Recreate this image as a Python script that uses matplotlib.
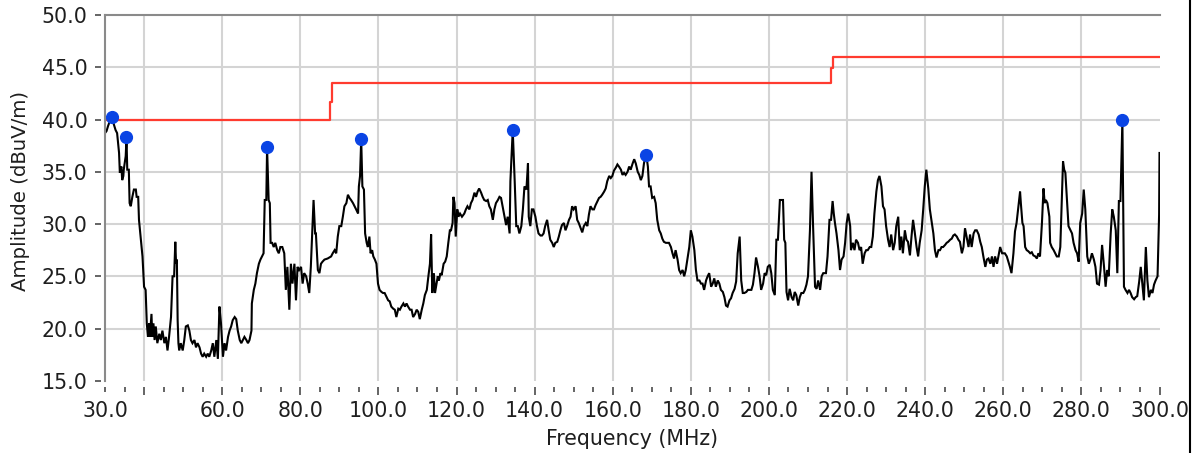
import matplotlib
matplotlib.use("Agg")
import matplotlib.pyplot as plt
from matplotlib.ticker import FixedLocator, FixedFormatter, MultipleLocator
from matplotlib.lines import Line2D

# ---------------- data ----------------
freq_a = [30.0, 30.4, 30.8, 31.4, 31.8, 32.3, 32.7, 33.1, 33.6, 33.8, 34.2, 34.4, 34.7, 34.8, 35.3, 35.5,
          35.7, 36.1, 36.3, 36.6, 37.0, 37.4, 37.9, 38.1, 38.5, 38.7, 39.1, 39.6, 40.0, 40.4, 40.7, 41.0,
          41.3, 41.5, 41.9, 42.1, 42.4, 42.7, 43.0, 43.4, 43.9, 44.3, 44.7, 45.2, 45.6, 46.0, 46.4, 46.9,
          47.3, 47.7, 48.0, 48.2, 48.4, 48.6, 48.8, 49.0, 49.4, 49.9, 50.3, 50.7, 51.2, 51.6, 52.0, 52.4,
          52.9, 53.3, 53.7, 54.2, 54.6, 55.0, 55.4, 55.9, 56.3, 56.7, 57.2, 57.6, 58.0, 58.5, 58.9, 59.3,
          59.7, 60.2, 60.6, 61.0, 61.5, 61.9, 62.3, 62.7, 63.2, 63.6, 64.0, 64.5, 64.9, 65.3, 65.7, 66.2,
          66.6, 67.0, 67.5, 67.6, 68.1, 68.5, 68.9, 69.4, 69.8, 70.2, 70.6, 70.9, 71.3, 71.5, 71.9, 72.2,
          72.4, 72.8, 73.2, 73.6, 74.1, 74.5, 74.9]
amp_a = [38.7, 38.9, 39.4, 40.0, 40.1, 39.5, 39.0, 38.7, 36.8, 34.9, 35.5, 34.2, 34.6, 35.2, 36.5, 38.2,
         35.2, 35.2, 32.0, 31.7, 32.6, 33.3, 33.3, 32.6, 32.6, 30.4, 28.8, 26.9, 24.0, 23.7, 20.5, 19.2,
         20.5, 19.2, 21.4, 19.2, 20.5, 18.9, 20.2, 18.6, 19.5, 18.9, 19.8, 18.6, 19.2, 17.9, 19.2, 21.1,
         25.0, 25.0, 28.3, 26.2, 26.6, 20.8, 18.6, 17.9, 18.6, 17.9, 18.9, 20.2, 20.3, 19.8, 18.9, 18.6,
         18.9, 18.2, 18.6, 18.2, 17.6, 17.3, 17.6, 17.3, 17.6, 17.3, 17.9, 18.6, 17.3, 18.9, 17.1, 22.1,
         20.5, 17.3, 18.6, 17.9, 19.2, 19.8, 20.2, 20.8, 21.1, 20.9, 19.8, 18.9, 18.6, 18.9, 19.2, 18.9,
         18.6, 18.9, 19.8, 22.4, 23.7, 24.3, 25.3, 26.2, 26.6, 26.9, 27.2, 32.3, 32.3, 37.3, 32.3, 32.0,
         28.2, 28.2, 27.8, 28.2, 27.5, 27.2, 27.8]

freq_b = [75.4, 75.9, 76.3, 76.7, 77.2, 77.6, 78.0, 78.5, 78.9, 79.3, 79.7, 80.2, 80.6, 81.0, 81.5, 81.9,
          82.3, 82.7, 83.2, 83.4, 83.8, 84.0, 84.5, 84.9, 85.3, 85.7, 86.2, 87.0, 87.9, 88.3, 88.8, 89.2,
          89.6, 90.0, 90.5, 90.9, 91.3, 91.8, 92.2, 92.6, 93.0, 93.5, 93.9, 94.3, 94.8, 95.0, 95.3, 95.6,
          95.9, 96.3, 96.6, 97.0, 97.3, 97.7, 98.0, 98.4, 98.7, 99.1, 99.5, 99.9, 100.3, 100.8, 101.2,
          101.6, 102.1, 102.5, 102.9, 103.3, 103.8, 104.2, 104.6, 105.1, 105.5, 105.9, 106.4, 106.8,
          107.2, 107.6, 108.1, 108.5, 108.9, 109.4, 109.8, 110.2, 110.6, 111.1, 111.5, 111.9, 112.4,
          112.8, 113.2, 113.5, 113.8, 114.2, 114.5, 114.9, 115.2, 115.5, 115.9, 116.2, 116.7, 117.1,
          117.5, 117.9, 118.3, 118.6, 119.0, 119.2, 119.5, 119.8, 120.2, 120.5, 120.9, 121.4]
amp_b = [27.8, 27.2, 23.7, 25.9, 21.8, 26.2, 24.3, 26.2, 22.7, 25.9, 25.6, 25.9, 24.3, 25.3, 25.0, 24.3,
         23.4, 25.9, 30.4, 32.3, 29.1, 29.1, 25.6, 25.3, 26.2, 26.4, 26.6, 26.7, 26.9, 27.2, 27.5, 27.2,
         28.8, 29.8, 29.8, 30.7, 31.7, 32.0, 32.8, 32.5, 32.3, 32.0, 31.7, 31.4, 31.0, 33.6, 34.6, 38.1,
         33.6, 33.3, 29.1, 28.2, 27.8, 28.8, 27.2, 27.5, 26.9, 26.6, 26.2, 24.3, 23.7, 23.5, 23.4,
         23.4, 23.0, 22.7, 22.6, 22.1, 21.9, 21.8, 21.1, 21.9, 21.8, 22.1, 22.4, 22.1,
         22.4, 22.1, 21.8, 21.8, 21.1, 21.4, 21.8, 21.6, 20.9, 21.8, 22.4, 23.2, 23.7,
         25.0, 26.2, 29.0, 23.4, 25.3, 23.4, 24.3, 25.0, 24.6, 25.3, 25.1, 26.2, 26.4,
         26.9, 28.2, 29.4, 29.4, 30.1, 32.6, 32.0, 28.8, 31.4, 30.7, 31.0, 30.7]

freq_c = [122.0, 122.4, 122.8, 123.3, 123.7, 124.1, 124.6, 125.0, 125.4, 125.8,
          126.3, 126.7, 127.1, 127.6, 128.0, 128.4, 128.8, 129.3, 129.7, 130.1,
          130.6, 131.0, 131.4, 131.8, 132.3, 132.7, 133.1, 133.6, 133.8, 134.4,
          134.9, 135.3, 135.7, 136.1, 136.6, 137.0, 137.4, 137.9, 138.3, 138.5,
          138.9, 139.3, 139.7, 140.2, 140.6, 141.0, 141.5, 141.9, 142.3, 142.7,
          143.2, 143.6, 144.0, 144.5, 144.9, 145.3, 145.8, 146.2, 146.6, 147.0,
          147.5, 147.9, 148.3, 148.8, 149.2, 149.6, 150.0, 150.5, 150.9, 151.3,
          151.8, 152.2, 152.6, 153.1, 153.5, 153.9, 154.3, 154.8, 155.2, 155.6,
          156.1, 156.5, 156.9, 157.3, 157.8, 158.2, 158.6, 159.1, 159.5, 159.9,
          160.3, 160.8, 161.2, 161.6, 162.1, 162.5, 162.9, 163.3, 163.8, 164.2,
          164.6, 165.1, 165.5, 165.9, 166.4, 166.8, 167.2]
amp_c = [31.0, 31.4, 31.7, 31.4, 32.0, 32.3, 33.0, 32.6, 33.1, 33.4,
         33.0, 32.6, 32.3, 32.2, 32.3, 31.7, 31.4, 30.4, 31.4, 32.0,
         32.3, 32.6, 32.5, 31.7, 30.7, 29.9, 30.7, 29.1, 34.1, 39.0,
         34.1, 29.8, 29.8, 29.1, 29.8, 31.4, 33.6, 33.3, 35.8, 30.7,
         29.8, 31.4, 31.4, 30.7, 29.8, 29.1, 28.9, 28.9, 29.1, 29.8,
         30.4, 29.4, 28.5, 28.2, 27.8, 28.2, 28.3, 28.8, 29.4, 29.9,
         30.1, 29.4, 29.8, 30.4, 30.7, 31.7, 31.4, 31.7, 30.4, 30.1,
         29.6, 29.2, 29.8, 30.1, 29.8, 30.9, 31.7, 31.4, 31.4, 31.8,
         32.2, 32.5, 32.6, 32.8, 33.1, 33.4, 34.1, 34.6, 34.4, 34.6,
         35.1, 35.4, 35.7, 35.5, 35.2, 34.7, 34.9, 34.7, 35.0, 35.5,
         35.2, 35.8, 36.2, 35.8, 35.0, 34.7, 34.2]

freq_d = [167.6, 168.0, 168.4, 168.6, 169.0, 169.3, 169.7, 170.1, 170.6, 171.0,
          171.4, 171.9, 172.3, 172.7, 173.1, 173.6, 174.0, 174.4, 174.9, 175.3,
          175.7, 176.1, 176.6, 177.0, 177.4, 177.9, 178.3, 178.7, 179.1, 179.6,
          180.0, 180.4, 180.9, 181.3, 181.7, 182.2, 182.6, 183.0, 183.4, 183.9,
          184.3, 184.7, 185.2, 185.6, 186.0, 186.4, 186.9, 187.3, 187.7, 188.2,
          188.6, 189.0, 189.4, 189.9, 190.3, 190.7, 191.2, 191.6, 192.0, 192.5,
          192.9, 193.3, 193.7, 194.2, 194.6, 195.0, 195.5, 195.9, 196.3, 196.7,
          197.2, 197.6, 198.0, 198.5, 198.9, 199.3, 199.7, 200.2, 200.6, 201.0,
          201.5, 201.9, 202.3, 202.8, 203.2, 203.6, 203.9, 204.2, 204.5, 204.9,
          205.3, 205.8, 206.2, 206.6, 207.0, 207.5, 207.9, 208.3, 208.8, 209.2,
          209.6, 210.0, 210.5, 210.9, 211.3, 211.8, 212.2, 212.6, 213.1, 213.5,
          213.9]
amp_d = [34.6, 35.8, 36.5, 36.6, 35.5, 33.6, 33.6, 32.5, 32.6, 32.0,
         30.4, 29.4, 29.1, 28.6, 28.3, 28.2, 28.2, 28.2, 27.8, 27.2,
         26.7, 27.5, 26.6, 25.6, 25.3, 25.6, 25.0, 25.6, 26.6, 27.8,
         29.4, 28.8, 27.5, 25.6, 24.6, 24.6, 24.3, 24.3, 23.7, 24.6,
         25.0, 25.3, 24.0, 24.3, 24.8, 24.0, 24.6, 24.3, 23.7, 23.5,
         23.0, 22.2, 22.1, 22.7, 22.9, 23.4, 23.8, 24.5, 27.2, 28.8,
         24.6, 23.4, 23.4, 23.5, 23.7, 23.7, 23.7, 24.2, 25.3, 26.8,
         25.9, 25.0, 23.7, 24.3, 25.3, 25.1, 25.9, 26.1, 25.3, 23.7,
         23.2, 28.5, 28.5, 32.3, 32.3, 32.3, 28.5, 28.2, 23.5, 22.7,
         23.8, 23.0, 22.7, 23.5, 23.2, 22.2, 23.0, 23.4, 23.4, 23.7,
         24.2, 25.0, 29.4, 35.0, 29.8, 24.0, 23.8, 24.6, 23.7, 25.0,
         25.3]

freq_e = [214.2, 214.6, 215.0, 215.5, 215.9, 216.3, 216.6, 216.9, 217.3, 217.8,
          218.2, 218.6, 219.1, 219.5, 219.9, 220.3, 220.8, 221.0, 221.5, 221.9,
          222.3, 222.8, 223.2, 223.6, 224.0, 224.5, 224.9, 225.3, 225.8, 226.2,
          226.6, 227.0, 227.5, 227.9, 228.3, 228.8, 229.2, 229.6, 230.0, 230.5,
          230.9, 231.3, 231.8, 232.2, 232.6, 233.1, 233.5, 233.9, 234.3, 234.8,
          235.2, 235.6, 236.1, 236.5, 236.9, 237.3, 237.8, 238.2, 238.6, 239.1,
          239.5, 239.9, 240.3, 240.8, 241.2, 241.6, 242.1, 242.5, 242.9, 243.4,
          243.8, 244.2, 244.6, 245.1, 245.5, 245.9, 246.4, 246.8, 247.2, 247.6,
          248.1, 248.5, 248.9, 249.4, 249.8, 250.2, 250.6, 251.1, 251.5, 251.9,
          252.4, 252.8, 253.2, 253.7, 254.1, 254.5, 254.9, 255.4, 255.8, 256.2,
          256.7, 257.1, 257.5, 257.9, 258.4, 258.8, 259.2, 259.7, 260.1]
amp_e = [25.3, 25.3, 26.9, 30.4, 30.4, 32.2, 31.0, 30.1, 29.1, 27.5,
         25.6, 26.6, 26.9, 28.2, 30.1, 31.0, 29.8, 27.5, 28.2, 27.5,
         28.5, 28.2, 27.5, 27.8, 26.2, 27.2, 27.5, 27.5, 27.8, 27.8,
         28.8, 31.0, 33.1, 34.2, 34.6, 33.6, 31.7, 31.4, 29.8, 28.5,
         27.8, 29.0, 27.5, 28.2, 29.8, 30.7, 27.5, 28.8, 27.2, 29.4,
         28.5, 28.3, 27.0, 28.8, 30.4, 29.3, 27.8, 26.9, 28.2, 29.4,
         31.4, 33.6, 35.2, 33.4, 31.4, 30.4, 29.1, 27.5, 26.8, 27.5,
         27.5, 27.8, 27.8, 28.0, 28.2, 28.3, 28.5, 28.6, 28.9, 29.0,
         28.8, 28.5, 28.3, 27.2, 27.8, 29.6, 28.8, 27.8, 29.0, 27.8,
         29.1, 29.4, 29.4, 29.0, 28.3, 27.8, 26.9, 25.9, 26.6, 26.7,
         26.2, 26.9, 25.9, 26.9, 26.2, 27.0, 27.8, 27.2, 27.2]

freq_f = [260.4, 260.9, 261.3, 261.7, 262.1, 262.6, 263.0, 263.4, 263.9, 264.3,
          264.5, 264.9, 265.2, 265.6, 266.0, 266.4, 266.9, 267.3, 267.7, 268.2,
          268.6, 269.0, 269.4, 269.9, 270.3, 270.6, 270.9, 271.3, 271.8, 272.0,
          272.4, 272.9, 273.3, 273.7, 274.2, 274.6, 275.0, 275.3, 275.6, 275.9,
          276.3, 276.7, 277.2, 277.6, 278.0, 278.5, 278.9, 279.3, 279.7, 280.2,
          280.6, 281.0, 281.5, 281.9, 282.3, 282.7, 283.2, 283.6, 284.0, 284.5,
          284.9, 285.3, 285.8, 286.2, 286.6, 287.0, 287.5, 287.9, 288.3, 288.8,
          289.2, 289.6, 290.0, 290.5, 290.7, 290.9, 291.3, 291.8, 292.2, 292.6,
          293.0, 293.5, 293.9, 294.3, 294.8, 295.2, 295.6, 296.0, 296.5, 296.9,
          297.3, 297.8, 298.2, 298.6, 299.0, 299.5, 299.9, 300.0]
amp_f = [27.2, 26.9, 26.4, 25.9, 25.3, 27.2, 29.3, 30.1, 31.8, 33.1,
         32.0, 30.1, 29.8, 27.8, 27.5, 27.4, 27.2, 27.3, 27.0, 26.9,
         26.7, 27.2, 26.9, 30.1, 33.4, 32.0, 32.3, 32.0, 30.7, 28.2,
         27.8, 27.5, 27.2, 26.9, 26.9, 27.8, 32.5, 36.0, 35.2, 34.9,
         32.3, 29.8, 29.4, 29.1, 28.2, 27.5, 27.2, 26.4, 30.1, 31.0,
         33.3, 31.4, 26.9, 26.2, 26.6, 27.2, 26.6, 25.9, 24.3, 24.2,
         25.6, 28.0, 25.9, 24.0, 25.6, 25.0, 29.1, 31.4, 30.7, 29.4,
         25.3, 32.2, 32.2, 40.0, 32.0, 24.0, 23.7, 23.4, 23.7, 23.4,
         23.0, 22.8, 23.0, 23.1, 24.5, 25.9, 24.3, 22.7, 27.8, 24.6,
         23.0, 23.7, 23.4, 24.2, 24.6, 25.0, 30.9, 36.8]

# limit line (red)
limit_freq = [30.0, 87.5, 87.5, 88.1, 88.1, 215.9, 215.9, 216.4, 216.4, 300.0]
limit_amp = [40.0, 40.0, 41.7, 41.7, 43.5, 43.5, 44.9, 44.9, 46.0, 46.0]

# detected peaks (blue markers)
peak_freq = [31.8, 35.5, 71.5, 95.6, 134.4, 168.6, 290.5]
peak_amp = [40.2, 38.3, 37.4, 38.1, 39.0, 36.6, 40.0]

# axes ticks / labels
x_ticks = [30, 40, 60, 80, 100, 120, 140, 160, 180, 200, 220, 240, 260, 280, 300]
x_tick_labels = ["30.0", "", "60.0", "80.0", "100.0", "120.0", "140.0", "160.0", "180.0",
                 "200.0", "220.0", "240.0", "260.0", "280.0", "300.0"]
x_grid = [40, 60, 80, 100, 120, 140, 160, 180, 200, 220, 240, 260, 280]
y_ticks = [15, 20, 25, 30, 35, 40, 45, 50]
y_tick_labels = ["15.0", "20.0", "25.0", "30.0", "35.0", "40.0", "45.0", "50.0"]
y_grid = [20, 25, 30, 35, 40, 45]

freq_mhz = freq_a + freq_b + freq_c + freq_d + freq_e + freq_f
amp_dbuv = amp_a + amp_b + amp_c + amp_d + amp_e + amp_f
assert len(freq_mhz) == len(amp_dbuv), (len(freq_mhz), len(amp_dbuv))

# ---------------- figure ----------------
W, H = 1193, 453
fig = plt.figure(figsize=(W / 100, H / 100), dpi=100)
fig.patch.set_facecolor("white")
left_px, right_px, top_px, bottom_px = 105.0, 1159.5, 15.0, 380.8
ax = fig.add_axes([left_px / W, 1 - bottom_px / H, (right_px - left_px) / W, (bottom_px - top_px) / H])
ax.set_facecolor("white")

ax.set_xlim(x_ticks[0], x_ticks[-1])
ax.set_ylim(y_ticks[0], y_ticks[-1])

grid_color = "#d4d4d4"
frame_color = "#8a8a8a"
text_color = "#1e1e1e"

for gx in x_grid:
    ax.axvline(gx, color=grid_color, lw=1.5, zorder=0)
for gy in y_grid:
    ax.axhline(gy, color=grid_color, lw=1.5, zorder=0)

# trace, limit, peaks
ax.plot(freq_mhz, amp_dbuv, color="black", lw=1.5, zorder=3, solid_joinstyle="miter")
ax.plot(limit_freq, limit_amp, color="#ff3b2f", lw=1.6, zorder=4)
ax.plot(peak_freq, peak_amp, linestyle="none", marker="o", markersize=8.5,
        markerfacecolor="#0a44e4", markeredgecolor="#0a44e4", zorder=5)

# spines
ax.spines["right"].set_visible(False)
ax.spines["top"].set_color(frame_color)
ax.spines["top"].set_linewidth(1.5)
ax.spines["left"].set_position(("outward", 3))
ax.spines["left"].set_visible(False)
ax.spines["bottom"].set_position(("outward", 4.5))
ax.spines["bottom"].set_visible(False)
ax.axvline(ax.get_xlim()[0], color=frame_color, lw=1.5, zorder=6, clip_on=False)

# ticks
ax.xaxis.set_major_locator(FixedLocator(x_ticks))
ax.xaxis.set_major_formatter(FixedFormatter(x_tick_labels))
ax.xaxis.set_minor_locator(MultipleLocator(5))
ax.yaxis.set_major_locator(FixedLocator(y_ticks))
ax.yaxis.set_major_formatter(FixedFormatter(y_tick_labels))

tick_fs = 14.8
ax.tick_params(axis="x", which="major", direction="out", length=5.8, width=1.1,
               color="#3a3a3a", pad=4.2, labelsize=tick_fs, labelcolor=text_color)
ax.tick_params(axis="x", which="minor", direction="out", length=3.6, width=1.1, color="#3a3a3a")
ax.tick_params(axis="y", which="major", direction="out", length=4.3, width=1.1,
               color="#3a3a3a", pad=5.2, labelsize=tick_fs, labelcolor=text_color)
ax.xaxis.get_major_ticks()[0].tick1line.set_markersize(3.6)

ax.set_xlabel("Frequency (MHz)", fontsize=14.8, color=text_color, labelpad=6)
ax.set_ylabel("Amplitude (dBuV/m)", fontsize=14.2, color=text_color)
ax.yaxis.set_label_coords(-0.071, 0.52)

# right image border
fig.add_artist(Line2D([1189.5 / W, 1189.5 / W], [0, 1], transform=fig.transFigure,
                      color="black", lw=1.5))

fig.savefig("out.png", dpi=100, facecolor="white")
